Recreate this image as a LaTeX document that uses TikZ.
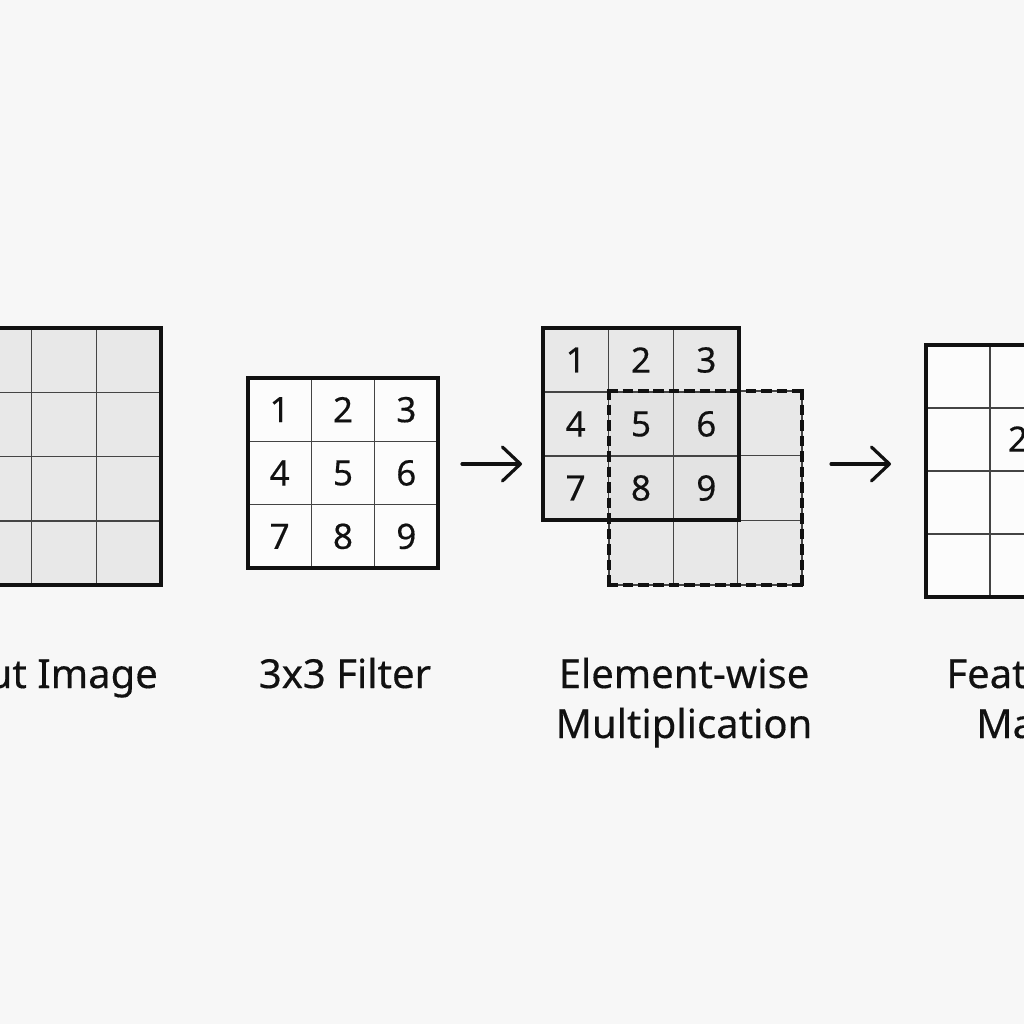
\documentclass[tikz,border=0pt]{standalone}
\usepackage{fontspec}
\setmainfont{Noto Sans}[FakeBold=0.35]
\usetikzlibrary{arrows.meta}
\definecolor{bg}{HTML}{F7F7F7}
\definecolor{cellgray}{HTML}{E8E8E8}
\definecolor{cellgraydark}{HTML}{E3E3E3}
\definecolor{gridline}{HTML}{444444}
\definecolor{ink}{HTML}{111111}
\begin{document}
\begin{tikzpicture}[x=1pt,y=-1pt,
  cellbase/.style={draw=gridline, line width=1.5pt, inner sep=0pt, text=ink,
    font=\fontsize{35}{40}\selectfont},
  cellgrey/.style={cellbase, fill=cellgray},
  cellwhite/.style={cellbase, fill=white!60!bg},
  border/.style={draw=ink, line width=3.3pt, line join=miter},
  dashseg/.style={draw=ink, line width=3.5pt, line cap=butt},
  label/.style={text=ink, font=\fontsize{40}{50}\selectfont, inner sep=0pt},
  flow/.style={draw=ink, line width=3.2pt, line cap=round,
    -{Straight Barb[length=18pt,width=34pt,line width=3.2pt,round]}}
]
\useasboundingbox (0,0) rectangle (1024,1024);
\fill[bg] (0,0) rectangle (1024,1024);
\clip (0,0) rectangle (1024,1024);

% ---------- Input Image (4x4, partly cut off) ----------
\foreach \r in {0,...,3}{
  \foreach \c in {0,...,3}{
    \node[cellgrey, minimum width=64.75pt, minimum height=64.25pt]
      (in-\r-\c) at ({-98+64.75*(\c+0.5)},{328+64.25*(\r+0.5)}) {};
  }
}
\draw[border] (-98,328) rectangle (161,585);
\node[label, anchor=base east] (lin) at (158,688) {Input Image};

% ---------- 3x3 Filter ----------
\foreach \r/\c/\v in {0/0/1,0/1/2,0/2/3,1/0/4,1/1/5,1/2/6,2/0/7,2/1/8,2/2/9}{
  \node[cellwhite, minimum width=63.33pt, minimum height=63.33pt]
    (flt-\r-\c) at ({248+63.33*(\c+0.5)},{378+63.33*(\r+0.5)}) {\v};
}
\draw[border] (248,378) rectangle (438,568);
\node[label, anchor=base] (lflt) at (345,688) {3x3 Filter};

% ---------- Element-wise Multiplication ----------
% shifted (dashed) window
\foreach \r in {0,...,2}{
  \foreach \c in {0,...,2}{
    \node[cellgrey, minimum width=64.33pt, minimum height=64.67pt]
      (win-\r-\c) at ({609+64.33*(\c+0.5)},{391+64.67*(\r+0.5)}) {};
  }
}
% filter placed on the input
\foreach \r/\c/\v in {0/0/1,0/1/2,0/2/3,1/0/4,1/1/5,1/2/6,2/0/7,2/1/8,2/2/9}{
  \node[cellgrey, minimum width=65.33pt, minimum height=64pt]
    (ew-\r-\c) at ({543+65.33*(\c+0.5)},{328+64*(\r+0.5)}) {\v};
}
% overlap slightly darker
\foreach \r/\c/\v in {1/1/5,1/2/6,2/1/8,2/2/9}{
  \node[cellbase, fill=cellgraydark, minimum width=65.33pt, minimum height=64pt]
    at (ew-\r-\c) {\v};
}
% dashed outline of the shifted window, drawn as dash segments
\foreach \k in {0,...,12}{
  \pgfmathsetmacro{\sa}{607.2+15.4*\k}
  \pgfmathsetmacro{\ea}{min(\sa+10.5,803.8)}
  \draw[dashseg] (\sa,391) -- (\ea,391);
  \draw[dashseg] (\sa,585) -- (\ea,585);
  \pgfmathsetmacro{\sb}{389.2+15.5*\k}
  \pgfmathsetmacro{\eb}{min(\sb+10.5,586.8)}
  \draw[dashseg] (609,\sb) -- (609,\eb);
  \draw[dashseg] (802,\sb) -- (802,\eb);
}
\draw[border] (543,328) rectangle (739,520);
\node[label, anchor=base] (lew1) at (684,688) {Element-wise};
\node[label, anchor=base] (lew2) at (684,738) {Multiplication};

% ---------- Feature Map ----------
\foreach \r in {0,...,3}{
  \foreach \c in {0,...,2}{
    \node[cellwhite, minimum width=64pt, minimum height=63pt]
      (fm-\r-\c) at ({926+64*(\c+0.5)},{345+63*(\r+0.5)}) {};
  }
}
\node[text=ink, font=\fontsize{35}{40}\selectfont, inner sep=0pt] (fmv) at (1018,439) {2};
\draw[border] (926,345) rectangle (1118,597);
\node[label, anchor=base] (lfm1) at (1018,688) {Feature};
\node[label, anchor=base] (lfm2) at (1018,738) {Map};

% ---------- arrows ----------
\coordinate (a1s) at (462,464);
\coordinate (a1e) at (522,464);
\coordinate (a2s) at (831,464);
\coordinate (a2e) at (891,464);
\draw[flow] (a1s) -- (a1e);
\draw[flow] (a2s) -- (a2e);
\end{tikzpicture}
\end{document}
